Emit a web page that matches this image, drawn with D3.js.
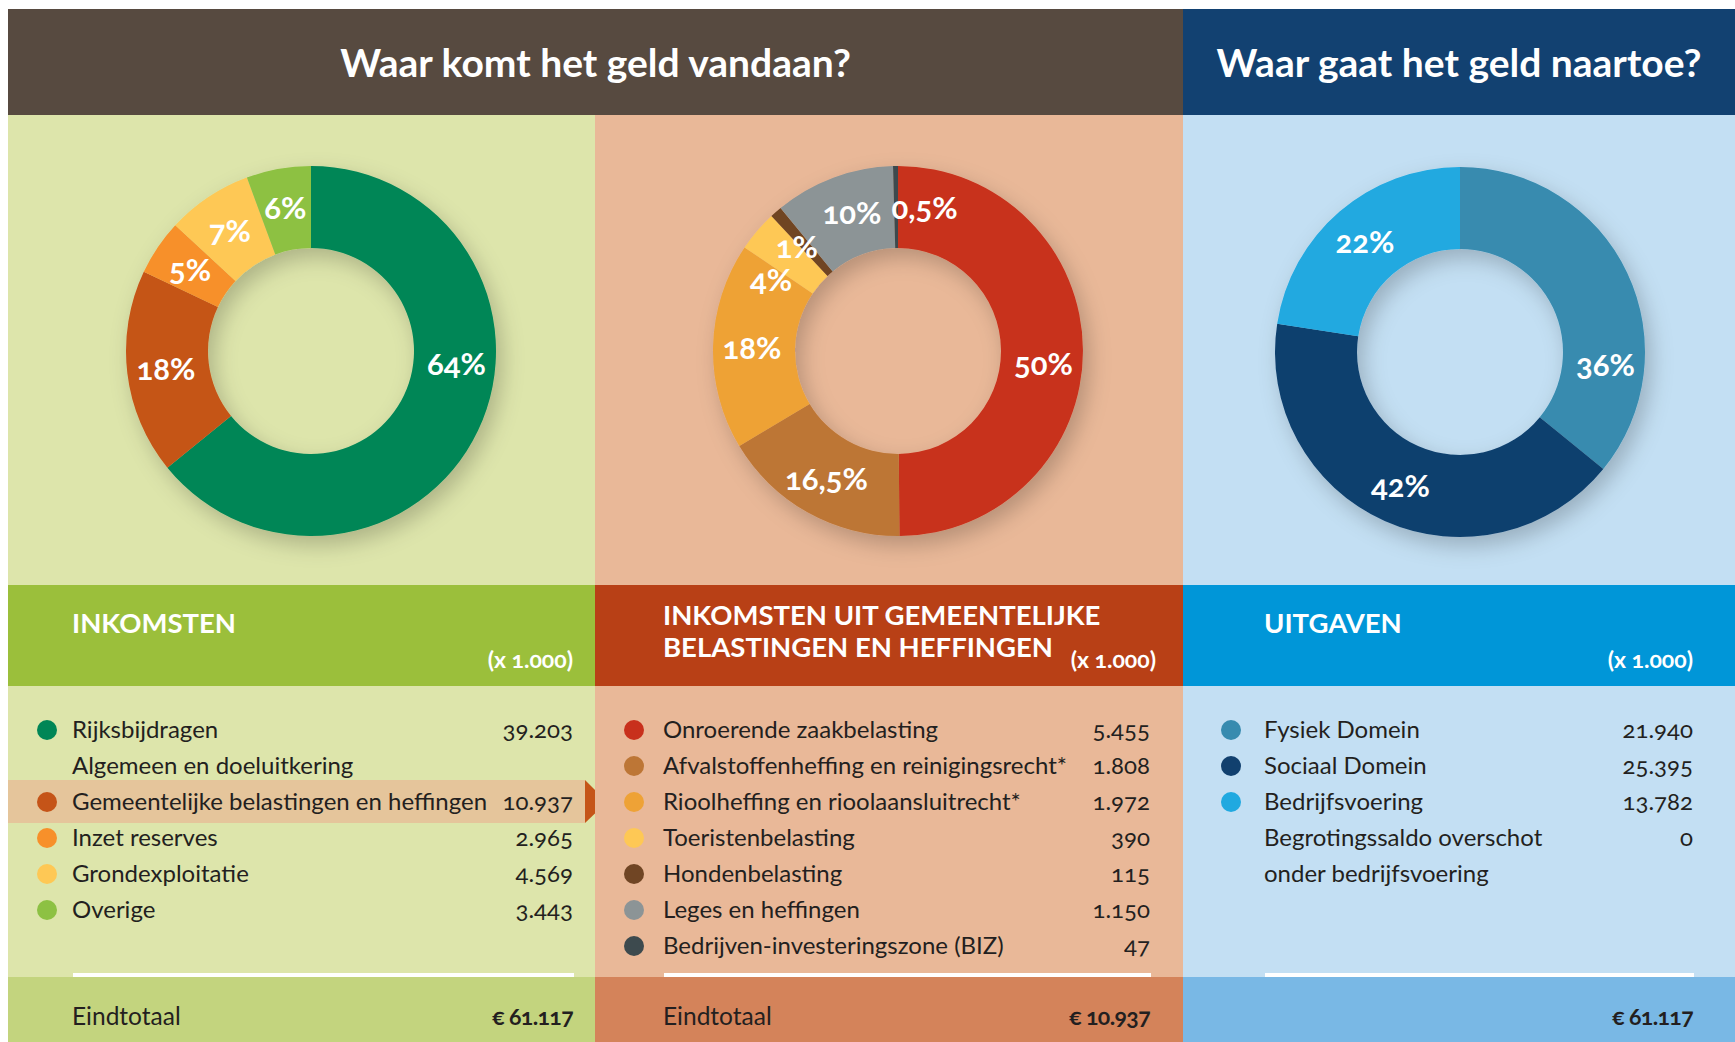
<!DOCTYPE html>
<html>
<head>
<meta charset="utf-8">
<script src="https://cdn.jsdelivr.net/npm/d3@7"></script>
<style>
  body { margin: 0; background: #fff; }
  svg { display: block; font-family: Lato, "Open Sans", sans-serif; font-variant-numeric: oldstyle-nums; }
</style>
</head>
<body>
<svg id="chart" width="1735" height="1042"></svg>
<script>
// --- data ---
const incomeNames = ["Rijksbijdragen", "Gemeentelijke belastingen en heffingen", "Inzet reserves", "Grondexploitatie", "Overige"];
const incomeNotes = ["Algemeen en doeluitkering", "", "", "", ""];
const incomeValues = [39203, 10937, 2965, 4569, 3443];
const incomeLabels = ["64%", "18%", "5%", "7%", "6%"];
const incomeColors = ["#008656", "#c55418", "#f7902a", "#fec855", "#8dc143"];

const taxNames = ["Onroerende zaakbelasting", "Afvalstoffenheffing en reinigingsrecht*", "Rioolheffing en rioolaansluitrecht*", "Toeristenbelasting", "Hondenbelasting", "Leges en heffingen", "Bedrijven-investeringszone (BIZ)"];
const taxNotes = ["", "", "", "", "", "", ""];
const taxValues = [5455, 1808, 1972, 390, 115, 1150, 47];
const taxLabels = ["50%", "16,5%", "18%", "4%", "1%", "10%", "0,5%"];
const taxColors = ["#c8301c", "#bd7636", "#eea236", "#fec855", "#704524", "#8c9496", "#3d4a4e"];

const spendNames = ["Fysiek Domein", "Sociaal Domein", "Bedrijfsvoering", "Begrotingssaldo overschot"];
const spendNotes = ["", "", "", "onder bedrijfsvoering"];
const spendValues = [21940, 25395, 13782, 0];
const spendLabels = ["36%", "42%", "22%", ""];
const spendColors = ["#378baf", "#11406e", "#20a9e0", "#c3dff3"];

const headTitles = ["Waar komt het geld vandaan?", "Waar gaat het geld naartoe?"];
const panelTitles = [["INKOMSTEN"], ["INKOMSTEN UIT GEMEENTELIJKE", "BELASTINGEN EN HEFFINGEN"], ["UITGAVEN"]];
const unitText = "(x 1.000)";
const totalLabels = ["Eindtotaal", "Eindtotaal", ""];
const highlightIndex = 1; // income row that is split out in the middle panel

const nl = d3.formatLocale({ decimal: ",", thousands: ".", grouping: [3], currency: ["€ ", ""] });
const fmt = nl.format(",d");
const fmtTotal = nl.format("$,d");

// --- layout ---
const W = 1735, H = 1042;
const topY = 9, headH = 106, contentB = 585, subB = 686, listB = 977;
const rowY0 = 730, rowStep = 36;
const rIn = 103, rOut = 185;

const panels = [
  { x0: 8, x1: 595, cx: 311, cy: 351, dotX: 47, textX: 72, valR: 573, bg: "#dde5ab", sub: "#9bbf3b", foot: "#c3d47e",
    names: incomeNames, notes: incomeNotes, values: incomeValues, labels: incomeLabels, colors: incomeColors },
  { x0: 595, x1: 1183, cx: 898, cy: 351, dotX: 634, textX: 663, valR: 1150, bg: "#e9b898", sub: "#b84016", foot: "#d4835a",
    names: taxNames, notes: taxNotes, values: taxValues, labels: taxLabels, colors: taxColors },
  { x0: 1183, x1: 1735, cx: 1460, cy: 352, dotX: 1231, textX: 1264, valR: 1693, bg: "#c3dff3", sub: "#0096d8", foot: "#79b8e5",
    names: spendNames, notes: spendNotes, values: spendValues, labels: spendLabels, colors: spendColors }
];

const svg = d3.select("#chart");

const defs = svg.append("defs");
const shadow = defs.append("filter").attr("id", "shadow")
  .attr("x", "-20%").attr("y", "-20%").attr("width", "150%").attr("height", "150%");
shadow.append("feDropShadow")
  .attr("dx", 6).attr("dy", 9).attr("stdDeviation", 11)
  .attr("flood-color", "#000").attr("flood-opacity", 0.22);

// headers
svg.append("rect").attr("x", 8).attr("y", topY).attr("width", 1183 - 8).attr("height", headH).attr("fill", "#574a40");
svg.append("rect").attr("x", 1183).attr("y", topY).attr("width", W - 1183).attr("height", headH).attr("fill", "#124171");
svg.selectAll("text.head")
  .data(headTitles)
  .join("text")
  .attr("class", "head")
  .attr("x", (d, i) => i === 0 ? (8 + 1183) / 2 : (1183 + W) / 2)
  .attr("y", 77)
  .attr("text-anchor", "middle")
  .attr("fill", "#fff")
  .attr("font-weight", 700)
  .attr("font-size", 39)
  .text(d => d);

const pie = d3.pie().sort(null).value(d => d);
const arc = d3.arc().innerRadius(rIn).outerRadius(rOut);

panels.forEach((p, pi) => {
  const g = svg.append("g");
  const w = p.x1 - p.x0;

  // backgrounds
  g.append("rect").attr("x", p.x0).attr("y", topY + headH).attr("width", w).attr("height", contentB - topY - headH).attr("fill", p.bg);
  g.append("rect").attr("x", p.x0).attr("y", contentB).attr("width", w).attr("height", subB - contentB).attr("fill", p.sub);
  g.append("rect").attr("x", p.x0).attr("y", subB).attr("width", w).attr("height", listB - subB).attr("fill", p.bg);
  g.append("rect").attr("x", p.x0).attr("y", listB).attr("width", w).attr("height", H - listB).attr("fill", p.foot);

  // donut
  const arcs = pie(p.values);
  const donut = g.append("g")
    .attr("transform", `translate(${p.cx},${p.cy})`)
    .attr("filter", "url(#shadow)");
  donut.selectAll("path")
    .data(arcs.filter(a => a.value > 0))
    .join("path")
    .attr("d", arc)
    .attr("fill", a => p.colors[a.index]);

  // percentage labels; the slice that crosses 3 o'clock is labelled there,
  // the others at their centroid, pushed apart where they collide
  const labG = g.append("g").attr("transform", `translate(${p.cx},${p.cy})`);
  const rLab = (rIn + rOut) / 2 + 2;
  const labs = arcs.filter(a => p.labels[a.index]).map(a => {
    const fixed = a.startAngle <= Math.PI / 2 && a.endAngle >= Math.PI / 2;
    return { text: p.labels[a.index], ang: fixed ? Math.PI / 2 + 0.08 : (a.startAngle + a.endAngle) / 2, fixed };
  });
  const texts = labG.selectAll("text")
    .data(labs)
    .join("text")
    .attr("text-anchor", "middle")
    .attr("dominant-baseline", "central")
    .attr("fill", "#fff")
    .attr("font-weight", 700)
    .attr("font-size", 31)
    .text(d => d.text);
  texts.each(function (d) { d.w = this.getComputedTextLength() + 10; d.h = 33; });
  for (let it = 0; it < 3000; it++) {
    let moved = false;
    for (let i = 0; i < labs.length; i++) {
      for (let j = i + 1; j < labs.length; j++) {
        const a = labs[i], b = labs[j];
        const ax = rLab * Math.sin(a.ang), ay = -rLab * Math.cos(a.ang);
        const bx = rLab * Math.sin(b.ang), by = -rLab * Math.cos(b.ang);
        if (Math.abs(ax - bx) < (a.w + b.w) / 2 && Math.abs(ay - by) < (a.h + b.h) / 2) {
          const diff = ((b.ang - a.ang + 3 * Math.PI) % (2 * Math.PI)) - Math.PI;
          const s = diff >= 0 ? 1 : -1;
          if (!a.fixed) a.ang -= 0.002 * s;
          if (!b.fixed) b.ang += 0.002 * s;
          moved = true;
        }
      }
    }
    if (!moved) break;
  }
  texts
    .attr("x", d => rLab * Math.sin(d.ang))
    .attr("y", d => -rLab * Math.cos(d.ang));

  // panel titles
  const lines = panelTitles[pi];
  g.selectAll("text.ptitle")
    .data(lines)
    .join("text")
    .attr("class", "ptitle")
    .attr("x", p.textX)
    .attr("y", (d, i) => lines.length === 1 ? 633 : 625 + i * 32)
    .attr("fill", "#fff")
    .attr("font-weight", 700)
    .attr("font-size", 27.5)
    .text(d => d);
  g.append("text")
    .attr("x", pi === 1 ? p.valR + 6 : p.valR)
    .attr("y", 668)
    .attr("text-anchor", "end")
    .attr("fill", "#fff")
    .attr("font-weight", 700)
    .attr("font-size", 23)
    .text(unitText);

  // rows: each item plus an optional continuation line
  const rows = [];
  p.names.forEach((n, i) => {
    rows.push({ i, name: n, value: p.values[i], dot: p.values[i] > 0 });
    if (p.notes[i]) rows.push({ i, name: p.notes[i], value: null, dot: false });
  });
  const y = d3.scaleLinear().domain([0, 1]).range([rowY0, rowY0 + rowStep]);

  if (pi === 0) {
    const hy = y(rows.findIndex(r => r.i === highlightIndex && r.value !== null));
    g.append("rect").attr("x", p.x0).attr("y", hy - 22).attr("width", 577).attr("height", 43).attr("fill", "#e5c59b");
    svg.append("path")
      .attr("d", d3.line()([[585, hy - 22], [607, hy], [585, hy + 21]]))
      .attr("fill", incomeColors[highlightIndex]);
  }

  const row = g.selectAll("g.row")
    .data(rows)
    .join("g")
    .attr("class", "row")
    .attr("transform", (d, k) => `translate(0,${y(k)})`);
  row.filter(d => d.dot).append("circle")
    .attr("cx", p.dotX)
    .attr("r", 10)
    .attr("fill", d => p.colors[d.i]);
  row.append("text")
    .attr("x", p.textX)
    .attr("y", 8)
    .attr("fill", "#231f20")
    .attr("font-size", 24)
    .text(d => d.name);
  row.filter(d => d.value !== null).append("text")
    .attr("x", p.valR)
    .attr("y", 8)
    .attr("text-anchor", "end")
    .attr("fill", "#231f20")
    .attr("font-size", 24)
    .text(d => fmt(d.value));

  // separator and total
  g.append("rect").attr("x", p.textX + 1).attr("y", 973).attr("width", p.valR - p.textX).attr("height", 4).attr("fill", "#fff");
  if (totalLabels[pi]) {
    g.append("text").attr("x", p.textX).attr("y", 1025).attr("fill", "#231f20").attr("font-size", 24.5).text(totalLabels[pi]);
  }
  g.append("text")
    .attr("x", p.valR)
    .attr("y", 1025)
    .attr("text-anchor", "end")
    .attr("fill", "#231f20")
    .attr("font-weight", 700)
    .attr("font-size", 23)
    .attr("letter-spacing", -0.6)
    .text(fmtTotal(d3.sum(p.values)));
});
</script>
</body>
</html>
